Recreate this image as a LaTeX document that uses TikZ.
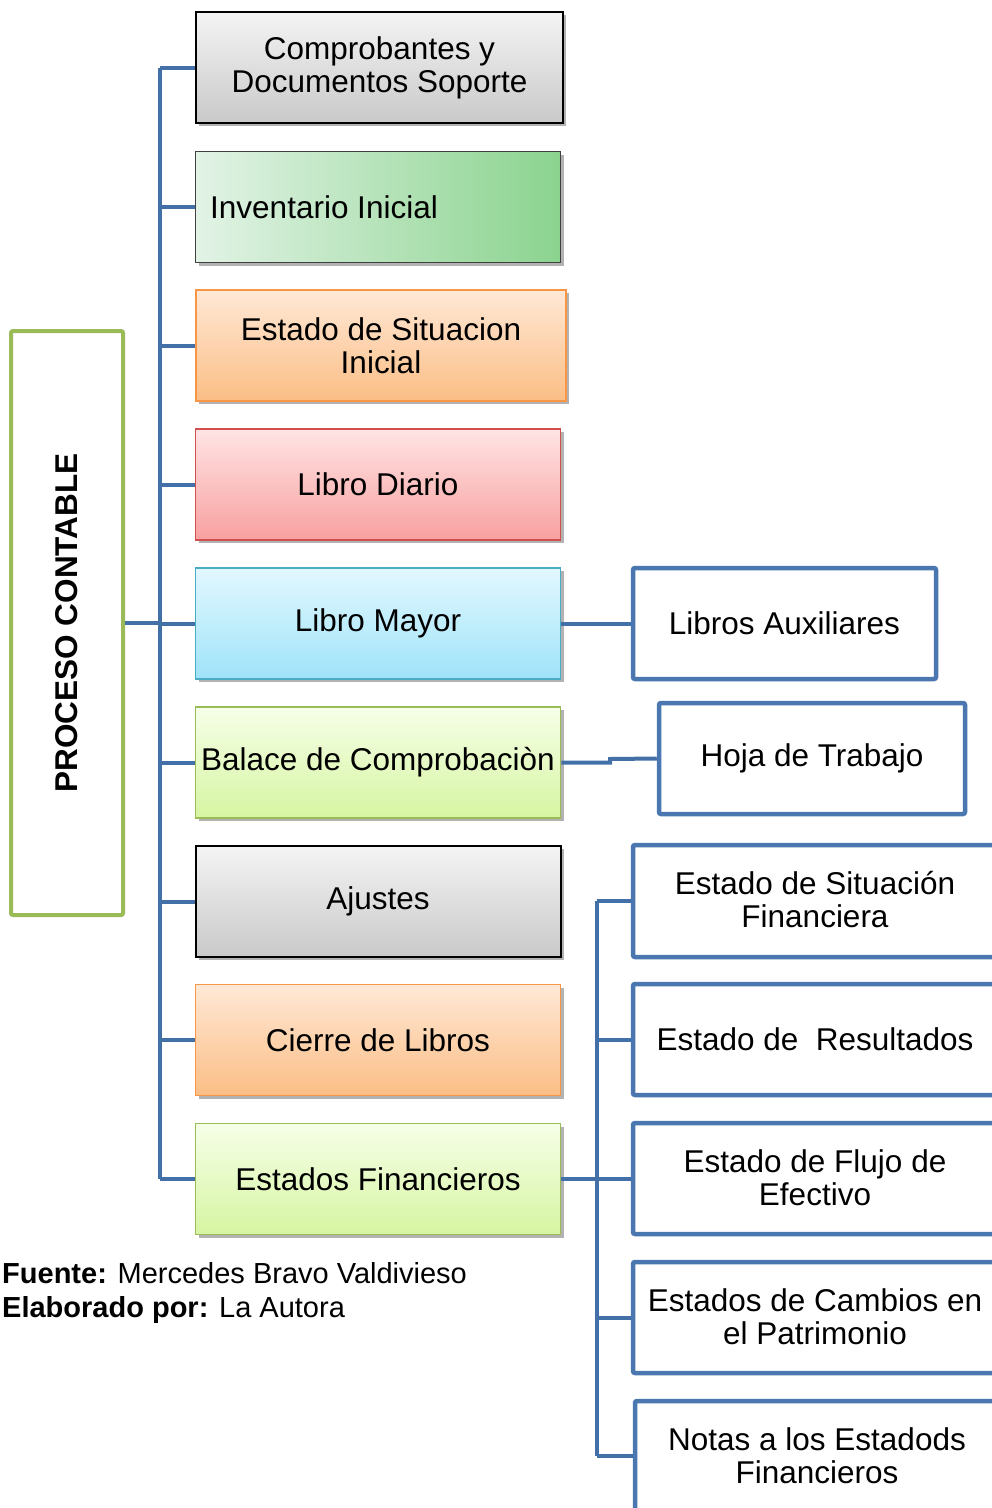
\documentclass[tikz,border=0pt]{standalone}
\usepackage{fontspec}
\setmainfont{Liberation Sans}
\usetikzlibrary{shadows}
\definecolor{conncol}{HTML}{4470A8}
\definecolor{rboxcol}{HTML}{4A77B0}
\definecolor{grTop}{HTML}{F4F4F4}
\definecolor{grBot}{HTML}{C9C9C9}
\definecolor{orTop}{HTML}{FFE8D6}
\definecolor{orBot}{HTML}{FBBE85}
\definecolor{orLine}{HTML}{F79646}
\definecolor{rdTop}{HTML}{FFE4E4}
\definecolor{rdBot}{HTML}{F8A0A0}
\definecolor{rdLine}{HTML}{D0504D}
\definecolor{blTop}{HTML}{E2F8FF}
\definecolor{blBot}{HTML}{9FE3F9}
\definecolor{blLine}{HTML}{4BACC6}
\definecolor{gyTop}{HTML}{F6FFE8}
\definecolor{gyBot}{HTML}{D6F5A2}
\definecolor{gyLine}{HTML}{9BBB59}
\definecolor{ivLeft}{HTML}{E2F3E6}
\definecolor{ivRight}{HTML}{8BD38F}
\tikzset{
  txt/.style={font=\fontsize{31.5}{33}\selectfont, align=center, text=black},
  mainbox/.style={txt, minimum width=365pt, minimum height=111pt, inner sep=0pt,
    drop shadow={shadow xshift=3pt, shadow yshift=-3pt, opacity=0.3, fill=black}},
  graybox/.style={mainbox, draw=black, line width=2pt, top color=grTop, bottom color=grBot},
  orbox/.style={mainbox, draw=orLine, line width=1.5pt, top color=orTop, bottom color=orBot},
  rdbox/.style={mainbox, draw=rdLine, line width=1.5pt, top color=rdTop, bottom color=rdBot},
  blbox/.style={mainbox, draw=blLine, line width=1.5pt, top color=blTop, bottom color=blBot},
  gybox/.style={mainbox, draw=gyLine, line width=1.5pt, top color=gyTop, bottom color=gyBot},
  rbox/.style={txt, draw=rboxcol, line width=4.5pt, rounded corners=2pt, fill=white, inner sep=0pt},
  conn/.style={draw=conncol, line width=4pt},
}
\begin{document}
\begin{tikzpicture}[x=1pt, y=-1pt]
\useasboundingbox (0,0) rectangle (992,1508);
\clip (0,0) rectangle (992,1508);

% left box
\node[draw=gyLine, line width=4pt, rounded corners=2pt, rotate=90, minimum width=584pt, minimum height=112pt,
  font=\fontsize{31.5}{33}\selectfont\bfseries, inner sep=0pt] (pc) at (67,623) {PROCESO CONTABLE};

% main column
\node[graybox, minimum width=367pt] (n1) at (379.5,67.5) {Comprobantes y\\Documentos Soporte};
\node[mainbox, draw=black!75, line width=1pt, left color=ivLeft, right color=ivRight, drop shadow={opacity=0}] (n2) at (378,207) {};
\node[txt, anchor=west, inner sep=0pt] (n2t) at (210,207) {Inventario Inicial};
\node[orbox, minimum width=370pt] (n3) at (381,345.5) {Estado de Situacion\\Inicial};
\node[rdbox] (n4) at (378,484.5) {Libro Diario};
\node[blbox] (n5) at (378,623.5) {Libro Mayor};
\node[gybox] (n6) at (378,762.5) {Balace de Comprobaciòn};
\node[graybox] (n7) at (378,901.5) {Ajustes};
\node[orbox] (n8) at (378,1040) {Cierre de Libros};
\node[gybox] (n9) at (378,1179) {Estados Financieros};

% right boxes
\node[rbox, minimum width=303pt, minimum height=111pt] (r1) at (784.5,623.5) {Libros Auxiliares};
\node[rbox, minimum width=306pt, minimum height=111pt] (r2) at (812,758.5) {Hoja de Trabajo};
\node[rbox, minimum width=380pt, minimum height=112pt] (f1) at (823,901) {};
\node[txt] (f1t) at (815,900) {Estado de Situación\\Financiera};
\node[rbox, minimum width=380pt, minimum height=111pt] (f2) at (823,1039.5) {};
\node[txt] (f2t) at (815,1039) {Estado de\ \ Resultados};
\node[rbox, minimum width=380pt, minimum height=111pt] (f3) at (823,1178.5) {};
\node[txt] (f3t) at (815,1178) {Estado de Flujo de\\Efectivo};
\node[rbox, minimum width=380pt, minimum height=111pt] (f4) at (823,1317.5) {};
\node[txt] (f4t) at (815,1317) {Estados de Cambios en\\el Patrimonio};
\node[rbox, minimum width=380pt, minimum height=140pt] (f5) at (825,1471) {};
\node[txt] (f5t) at (817,1456) {Notas a los Estadods\\Financieros};

% connectors: main trunk
\coordinate (tt) at (160,67.5);
\coordinate (tb) at (160,1179);
\draw[conn] (tt) -- (tb);
\foreach \n in {n1,n2,n3,n4,n5,n6,n7,n8,n9}{
  \draw[conn] (\n.west) -- (\n.west -| tt);
}
\draw[conn] (pc.south) -- (pc.south -| tt);
\draw[conn] (n5.east) -- (r1.west);
\coordinate (jog) at (610,762.5);
\draw[conn] (n6.east) -- (jog) -- ++(0,-3.5) -- (r2.west);
% financial statements trunk
\coordinate (ft) at (597,901);
\coordinate (fb) at (597,1456);
\draw[conn] (ft) -- (fb);
\draw[conn] (n9.east) -- (n9.east -| ft);
\draw[conn] (ft) -- (f1.west |- ft);
\draw[conn] (f2.west) -- (f2.west -| ft);
\draw[conn] (f3.west) -- (f3.west -| ft);
\draw[conn] (f4.west) -- (f4.west -| ft);
\draw[conn] (fb) -- (fb -| f5.west);

% source text
\node[font=\fontsize{29}{34}\selectfont, anchor=north west, align=left, inner sep=0pt] (src) at (2,1262)
  {\textbf{Fuente:} Mercedes Bravo Valdivieso\\\textbf{Elaborado por:} La Autora};
\end{tikzpicture}
\end{document}
